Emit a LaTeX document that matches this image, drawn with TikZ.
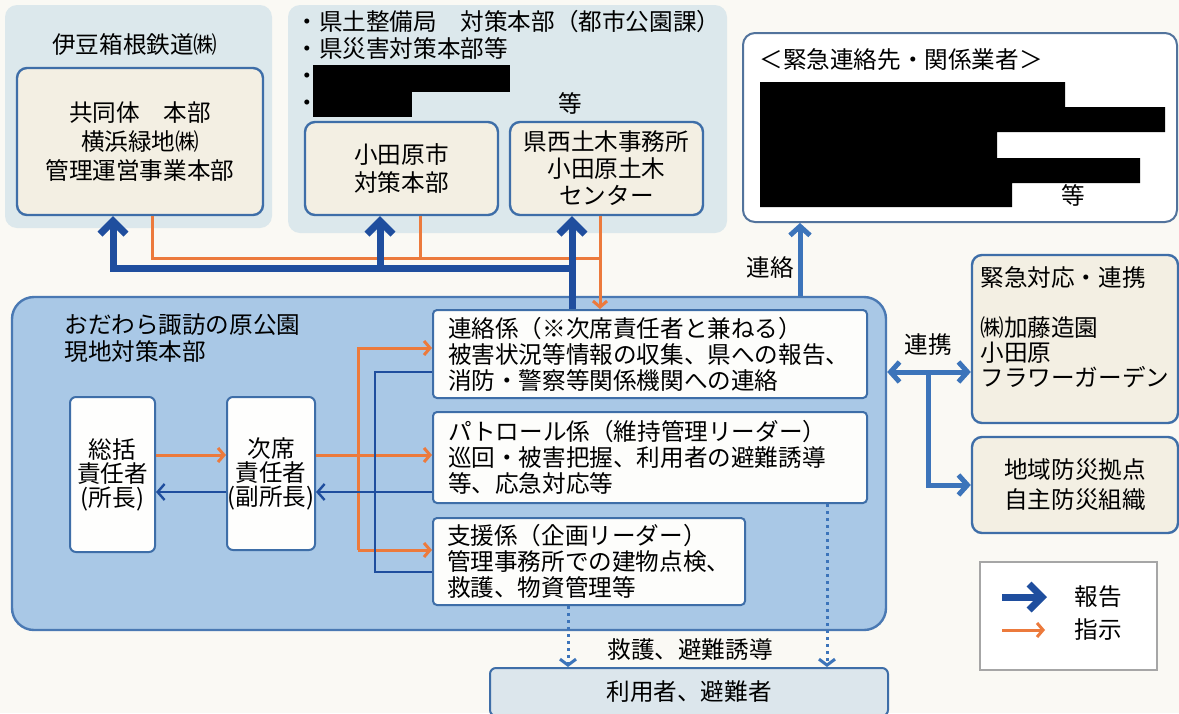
\documentclass[tikz,border=0pt]{standalone}
\usepackage{fontspec}
\setmainfont{Noto Sans CJK JP}
\usepackage{tikz}
\usetikzlibrary{shapes,arrows,arrows.meta,calc}
\definecolor{paper}{HTML}{FAF9F4}
\definecolor{panelgray}{HTML}{DCE8EC}
\definecolor{cream}{HTML}{F3EFE3}
\definecolor{boxblue}{HTML}{3E6EA8}
\definecolor{sitefill}{HTML}{A9C8E6}
\definecolor{siteedge}{HTML}{4A79B3}
\definecolor{repblue}{HTML}{1F4E9E}
\definecolor{linkblue}{HTML}{3C74BA}
\definecolor{instrorange}{HTML}{EC7A3C}
\definecolor{usersfill}{HTML}{DCE6EC}
\newcommand{\jptext}{\fontsize{11.8}{14}\selectfont}
\tikzstyle{txt} = [inner sep=0pt, font=\jptext]
\tikzstyle{panel} = [fill=panelgray, rounded corners=6pt, inner sep=0pt]
\tikzstyle{block} = [draw=boxblue, line width=1.2pt, fill=cream, rounded corners=5pt, align=center, inner sep=0pt, font=\jptext]
\tikzstyle{whitebox} = [draw=boxblue!70!gray, line width=1pt, fill=white, rounded corners=6pt, inner sep=0pt]
\tikzstyle{mainpanel} = [draw=siteedge, line width=1.2pt, fill=sitefill, rounded corners=11pt, inner sep=0pt]
\tikzstyle{person} = [draw=boxblue, line width=1pt, fill=white!92!cream, rounded corners=3pt, align=center, inner sep=0pt, font=\fontsize{11.8}{12}\selectfont]
\tikzstyle{slot} = [draw=boxblue, line width=1pt, fill=white!85!cream, rounded corners=2pt, align=left, inner sep=0pt, font=\fontsize{11.8}{13}\selectfont]
\tikzstyle{legendbox} = [draw=gray!70, line width=0.8pt, fill=white, inner sep=0pt]
\tikzstyle{userbox} = [draw=boxblue, line width=1pt, fill=usersfill, rounded corners=3pt, inner sep=0pt, font=\jptext]
\tikzstyle{report} = [draw=repblue, line width=3.5pt, -{Straight Barb[length=6.5pt, width=13pt]}]
\tikzstyle{insline} = [draw=instrorange, line width=1.5pt]
\tikzstyle{instr} = [draw=instrorange, line width=1.5pt, -{Straight Barb[length=3pt, width=7pt]}]
\tikzstyle{repthin} = [draw=repblue, line width=1.2pt]
\tikzstyle{repthinarrow} = [draw=repblue, line width=1.2pt, -{Straight Barb[length=3.5pt, width=8pt]}]
\tikzstyle{link} = [draw=linkblue, line width=2.5pt, -{Straight Barb[length=4.5pt, width=10pt]}]
\tikzstyle{linkboth} = [draw=linkblue, line width=2.5pt, {Straight Barb[length=4.5pt, width=10pt]}-{Straight Barb[length=4.5pt, width=10pt]}]
\tikzstyle{dotlink} = [draw=linkblue, line width=1.5pt, dotted, -{Straight Barb[length=3pt, width=8pt]}]

\begin{document}
\begin{tikzpicture}[x=0.5pt, y=-0.5pt]
    \useasboundingbox (0,0) rectangle (1179,713);
    \clip (0,0) rectangle (1179,713);
    \fill[paper] (0,0) rectangle (1179,713);

    \node[panel, minimum width=133.5pt, minimum height=111.5pt] (izupanel) at (138.5,116.5) {};
    \node[txt] (izutitle) at (135,45) {伊豆箱根鉄道㈱};
    \node[block, minimum width=123pt, minimum height=73.5pt, font=\fontsize{11.8}{14.5}\selectfont] (izu) at (140,141.5) {共同体　本部\\横浜緑地㈱\\管理運営事業本部};

    \node[panel, minimum width=219.5pt, minimum height=114pt] (kenpanel) at (507.5,119) {};
    \node[txt, anchor=north west, align=left, font=\fontsize{11.8}{13.5}\selectfont] (kenlist) at (295,10) {・県土整備局　対策本部（都市公園課）\\・県災害対策本部等\\・\\・};
    \fill (313,65) rectangle (510,92);
    \fill (313,91) rectangle (412,117);
    \node[txt] (kenetc) at (570,103) {等};
    \node[block, minimum width=96.5pt, minimum height=46.5pt] (odawara) at (401.5,168.5) {小田原市\\対策本部};
    \node[block, minimum width=96.5pt, minimum height=46.5pt, font=\fontsize{11.8}{13.5}\selectfont] (kensei) at (606.5,168.5) {県西土木事務所\\小田原土木\\センター};

    \node[whitebox, minimum width=217pt, minimum height=94.5pt] (contact) at (960,127.5) {};
    \node[txt, anchor=west] (contacttitle) at (759,60) {＜緊急連絡先・関係業者＞};
    \fill (760,82) -- (1065,82) -- (1065,107) -- (1165,107) -- (1165,132) -- (997,132) -- (997,158) -- (1140,158) -- (1140,183) -- (1012,183) -- (1012,207) -- (760,207) -- cycle;
    \node[txt] (contactetc) at (1073,195) {等};

    \node[mainpanel, minimum width=437pt, minimum height=166.5pt] (site) at (449,463.5) {};
    \node[txt, anchor=west, align=left, font=\fontsize{11.8}{13.5}\selectfont] (sitetitle) at (64,338) {おだわら諏訪の原公園\\現地対策本部};
    \node[person, minimum width=42.5pt, minimum height=77.5pt] (sokatsu) at (112.5,474.5) {総括\\責任者\\(所長)};
    \node[person, minimum width=44pt, minimum height=76.5pt] (jiseki) at (271,473.5) {次席\\責任者\\(副所長)};
    \node[slot, minimum width=217pt, minimum height=44pt, text width=202pt] (renraku) at (650,354) {連絡係（※次席責任者と兼ねる）\\被害状況等情報の収集、県への報告、\\消防・警察等関係機関への連絡};
    \node[slot, minimum width=217pt, minimum height=45.5pt, text width=202pt] (patrol) at (650,457.5) {パトロール係（維持管理リーダー）\\巡回・被害把握、利用者の避難誘導\\等、応急対応等};
    \node[slot, minimum width=156pt, minimum height=43.5pt, text width=142pt] (shien) at (589,561.5) {支援係（企画リーダー）\\管理事務所での建物点検、\\救護、物資管理等};

    \node[block, minimum width=103pt, minimum height=84pt] (kinkyu) at (1075,339) {};
    \node[txt, anchor=north west, align=left, font=\fontsize{11.8}{12.5}\selectfont] (kinkyutext) at (980,266) {緊急対応・連携\\[12.5pt]㈱加藤造園\\小田原\\フラワーガーデン};
    \node[block, minimum width=103pt, minimum height=48pt, font=\fontsize{11.8}{15}\selectfont] (chiiki) at (1075,485) {地域防災拠点\\自主防災組織};

    \node[legendbox, minimum width=88.5pt, minimum height=54pt] (legend) at (1068.5,616) {};
    \node[txt] (legrep) at (1098,597) {報告};
    \node[txt] (legins) at (1098,630) {指示};

    \node[userbox, minimum width=199pt, minimum height=24pt] (users) at (689,692) {利用者、避難者};

    \coordinate (insL) at (152,258);
    \coordinate (insM) at (420,258);
    \coordinate (insR) at (600,258);
    \draw[insline] (izu.south -| insL) -- (insL) -- (insR);
    \draw[insline] (odawara.south -| insM) -- (insM);
    \draw[instr] (kensei.south -| insR) -- (renraku.north -| insR);

    \coordinate (repL) at (113,268);
    \coordinate (repM) at (380,268);
    \coordinate (repR) at (572,268);
    \draw[report] (renraku.north -| repR) -- (repR) -- (repL) -- (izu.south -| repL);
    \draw[report] (repM) -- (odawara.south -| repM);
    \draw[report] (repR) -- (kensei.south -| repR);

    \coordinate (oTop) at (358,348);
    \coordinate (oMid) at (358,455);
    \coordinate (oBot) at (358,550);
    \draw[instr] (sokatsu.east |- oMid) -- (jiseki.west |- oMid);
    \draw[insline] (jiseki.east |- oMid) -- (oMid);
    \draw[instr] (oBot) -- (oTop) -- (renraku.west |- oTop);
    \draw[instr] (oMid) -- (patrol.west |- oMid);
    \draw[instr] (oBot) -- (shien.west |- oBot);

    \coordinate (bTop) at (375,372);
    \coordinate (bMid) at (375,492);
    \coordinate (bBot) at (375,572);
    \draw[repthin] (renraku.west |- bTop) -- (bTop) -- (bBot) -- (shien.west |- bBot);
    \draw[repthinarrow] (patrol.west |- bMid) -- (jiseki.east |- bMid);
    \draw[repthinarrow] (jiseki.west |- bMid) -- (sokatsu.east |- bMid);

    \coordinate (lnk) at (800,260);
    \draw[link] (site.north -| lnk) -- (contact.south -| lnk);
    \node[txt] (lblrenraku) at (770,268) {連絡};
    \coordinate (cop) at (928,372);
    \draw[linkboth] (site.east |- cop) -- (kinkyu.west |- cop);
    \node[txt] (lblrenkei) at (928,345) {連携};
    \draw[link] (cop) |- (chiiki.west);

    \coordinate (dv1) at (568,640);
    \coordinate (dv2) at (827,640);
    \draw[dotlink] (shien.south -| dv1) -- (users.north -| dv1);
    \draw[dotlink] (patrol.south -| dv2) -- (users.north -| dv2);
    \node[txt] (lblrescue) at (690,650) {救護、避難誘導};

    \coordinate (lr1) at (1002,597);
    \coordinate (lr2) at (1047,597);
    \coordinate (li1) at (1002,630);
    \coordinate (li2) at (1045,630);
    \draw[report] (lr1) -- (lr2);
    \draw[instr] (li1) -- (li2);
\end{tikzpicture}
\end{document}
